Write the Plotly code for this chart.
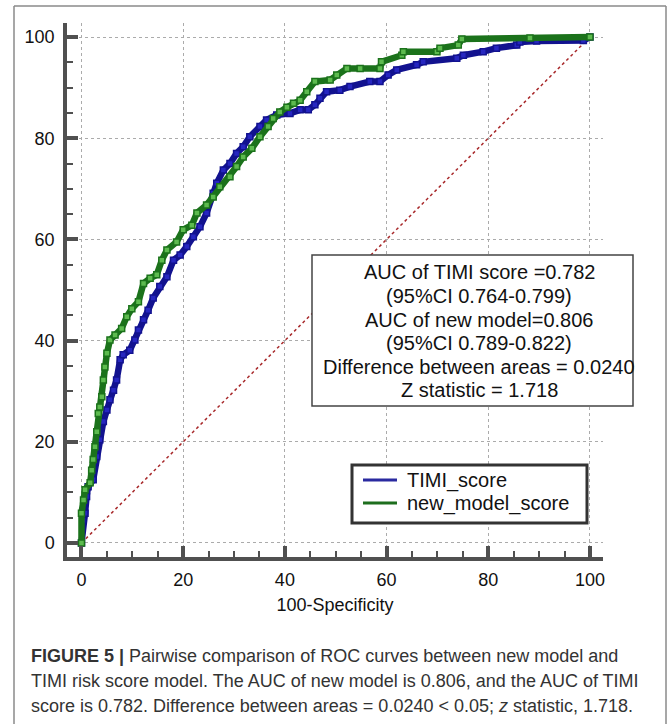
import plotly.graph_objects as go

# ---------------- data ----------------
timi_x = [0, 0.3, 0.7, 1.0, 1.3, 2.3, 3.0, 3.6, 4.3, 5.0, 5.6, 6.3, 6.9, 7.6, 8.2, 9.5, 10.5, 11.2,
          12.2, 13.1, 14.1, 15.4, 16.8, 18.1, 19.4, 20.7, 22.0, 23.3, 24.6, 25.9, 26.6, 27.9, 29.2,
          30.5, 31.8, 33.1, 35.1, 36.4, 38.4, 41.0, 43.0, 44.6, 45.9, 46.9, 48.2, 50.8, 52.8, 56.7,
          58.7, 60.3, 62.0, 65.9, 67.2, 73.8, 75.1, 79.0, 81.6, 85.6, 86.2, 89.5, 98.7, 100]
timi_y = [0, 4.5, 5.9, 9.2, 11.1, 12.5, 17.1, 20.4, 24.0, 26.3, 28.3, 30.2, 32.2, 36.2, 37.2, 38.1,
          40.1, 42.1, 44.1, 46.0, 48.4, 50.7, 52.6, 55.9, 56.9, 58.6, 60.5, 62.5, 65.2, 69.1, 71.1,
          73.7, 75.0, 77.0, 78.3, 80.3, 82.3, 83.6, 84.6, 84.9, 85.6, 85.6, 86.6, 87.9, 89.2, 89.5,
          90.2, 91.2, 91.2, 92.5, 93.5, 94.5, 95.1, 95.8, 96.4, 97.1, 97.8, 98.4, 99.0, 99.2, 99.3, 100]

new_x = [0, 0, 0.4, 0.7, 1.7, 2.0, 2.3, 2.65, 3.0, 3.3, 3.6, 4.0, 4.3, 4.6, 5.0, 5.6, 6.6, 7.9, 8.9,
         9.9, 11.2, 12.2, 13.5, 14.8, 15.8, 16.8, 18.7, 20.0, 21.7, 22.7, 24.6, 25.9, 27.2, 29.2, 30.5,
         31.8, 33.5, 35.1, 36.7, 37.7, 39.0, 40.4, 41.7, 43.0, 44.3, 45.9, 48.9, 50.2, 52.2, 54.8,
         58.7, 59.0, 63.0, 63.3, 69.9, 70.5, 74.1, 74.8, 88.2, 100]
new_y = [0, 5.9, 8.5, 10.5, 11.9, 14.4, 16.5, 19.0, 22.0, 25.6, 26.9, 28.9, 32.2, 34.8, 37.5, 40.1,
         41.1, 42.4, 44.7, 46.3, 47.7, 51.3, 52.3, 53.0, 55.9, 57.9, 59.5, 61.9, 62.8, 65.2, 66.8, 68.4,
         70.4, 72.4, 74.4, 76.3, 78.0, 80.3, 82.3, 83.9, 85.2, 86.1, 86.9, 87.5, 89.2, 91.2, 91.5, 92.5,
         93.8, 93.8, 93.8, 95.1, 96.4, 97.1, 97.1, 97.8, 98.4, 99.6, 99.8, 100]

ref_x = [0, 100]
ref_y = [0, 100]

tick_vals = [0, 20, 40, 60, 80, 100]
series_names = ["TIMI_score", "new_model_score"]
x_title = "100-Specificity"

box_lines = [
    "AUC of TIMI score =0.782",
    "(95%CI 0.764-0.799)",
    "AUC of new model=0.806",
    "(95%CI 0.789-0.822)",
    "Difference between areas = 0.0240",
    "Z statistic = 1.718",
]
caption_lines = [
    "<b>FIGURE 5 |</b> Pairwise comparison of ROC curves between new model and",
    "TIMI risk score model. The AUC of new model is 0.806, and the AUC of TIMI",
    "score is 0.782. Difference between areas = 0.0240 &lt; 0.05; <i>z</i> statistic, 1.718.",
]

# ---------------- layout geometry (pixels) ----------------
W, H = 669, 724
PL, PR, PT, PB = 67, 603, 23, 557


def fx(px):
    return (px - PL) / (PR - PL)


def fy(py):
    return (PB - py) / (PB - PT)


FONT = "Liberation Sans, Arial, sans-serif"
BLUE = "#12128f"
BLUE_FILL = "#2626c0"
GREEN = "#1b721b"
GREEN_FILL = "#5dbb4f"
LEG_COLORS = ["#2a2aa0", "#1d6e1d"]
AXC = "#505050"

fig = go.Figure()

fig.add_trace(go.Scatter(x=ref_x, y=ref_y, mode="lines", showlegend=False,
                         line=dict(color="#a8282a", width=1.5, dash="dot"), hoverinfo="skip"))

fig.add_trace(go.Scatter(x=timi_x, y=timi_y, mode="lines+markers", name=series_names[0], showlegend=False,
                         line=dict(color=BLUE, width=6.5),
                         marker=dict(symbol="square", size=6, color=BLUE_FILL,
                                     line=dict(color=BLUE, width=1.5))))
fig.add_trace(go.Scatter(x=new_x, y=new_y, mode="lines+markers", name=series_names[1], showlegend=False,
                         line=dict(color=GREEN, width=6.5),
                         marker=dict(symbol="square", size=6, color=GREEN_FILL,
                                     line=dict(color=GREEN, width=1.5))))

axis_common = dict(
    showline=True, linecolor=AXC, linewidth=3.5,
    ticks="inside", ticklen=11, tickwidth=3.5, tickcolor=AXC,
    tickvals=tick_vals,
    minor=dict(ticks="inside", ticklen=6, tickwidth=2, tickcolor=AXC, dtick=5, showgrid=False),
    showgrid=True, gridcolor="#ababab", gridwidth=1, griddash="dot",
    zeroline=False, mirror=False,
    tickfont=dict(family=FONT, size=18, color="#111"),
)

fig.update_xaxes(range=[-2.85, 102.56], title=dict(text=x_title, standoff=10,
                 font=dict(family=FONT, size=18, color="#111")), ticklabelstandoff=4, **axis_common)
fig.update_yaxes(range=[-2.77, 102.77], ticklabelstandoff=5, **axis_common)

shapes = []
# text box
shapes.append(dict(type="rect", xref="paper", yref="paper", layer="above",
                   x0=fx(312), x1=fx(633), y0=fy(406), y1=fy(255),
                   line=dict(color="#444", width=1.5), fillcolor="white"))
# legend box
shapes.append(dict(type="rect", xref="paper", yref="paper", layer="above",
                   x0=fx(352), x1=fx(587), y0=fy(523), y1=fy(465),
                   line=dict(color="#333", width=3), fillcolor="white"))
leg_ys = [480, 503]
for col, yy in zip(LEG_COLORS, leg_ys):
    shapes.append(dict(type="line", xref="paper", yref="paper", layer="above",
                       x0=fx(363), x1=fx(397), y0=fy(yy), y1=fy(yy),
                       line=dict(color=col, width=3)))
# outer frame
frame_col = "#8a8a8a"
shapes.append(dict(type="line", xref="paper", yref="paper", x0=fx(14), x1=fx(666), y0=fy(6), y1=fy(6),
                   line=dict(color=frame_col, width=1.5)))
shapes.append(dict(type="line", xref="paper", yref="paper", x0=fx(14), x1=fx(14), y0=fy(6), y1=fy(740),
                   line=dict(color=frame_col, width=1.5)))
shapes.append(dict(type="line", xref="paper", yref="paper", x0=fx(666), x1=fx(666), y0=fy(6), y1=fy(740),
                   line=dict(color=frame_col, width=1.5)))

annotations = []
box_ys = [272, 296, 320, 343, 367, 390]
for txt, yy in zip(box_lines, box_ys):
    annotations.append(dict(text=txt, xref="paper", yref="paper", x=fx(479), y=fy(yy),
                            xanchor="center", yanchor="middle", showarrow=False,
                            font=dict(family=FONT, size=20, color="#111")))

for name, yy in zip(series_names, leg_ys):
    annotations.append(dict(text=name, xref="paper", yref="paper", x=fx(405), y=fy(yy),
                            xanchor="left", yanchor="middle", showarrow=False,
                            font=dict(family=FONT, size=20, color="#111")))

cap_ys = [656, 681, 706]
for txt, yy in zip(caption_lines, cap_ys):
    annotations.append(dict(text=txt, xref="paper", yref="paper", x=fx(29), y=fy(yy),
                            xanchor="left", yanchor="middle", showarrow=False,
                            font=dict(family="Liberation Sans Narrow, " + FONT, size=18, color="#333")))

fig.update_layout(
    width=W, height=H,
    margin=dict(l=PL, r=W - PR, t=PT, b=H - PB, pad=0),
    paper_bgcolor="white", plot_bgcolor="white",
    shapes=shapes, annotations=annotations,
    showlegend=False,
    font=dict(family=FONT),
)

fig.write_html("out.html")
